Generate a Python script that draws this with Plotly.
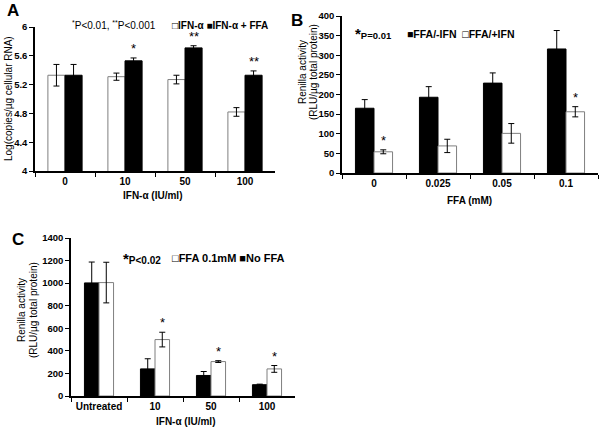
import plotly.graph_objects as go

# ---------------- data ----------------
a_cats = ["0", "10", "50", "100"]
a_ifn = [5.33, 5.31, 5.27, 4.82]
a_ifn_err = [0.15, 0.05, 0.06, 0.06]
a_ffa = [5.33, 5.53, 5.71, 5.33]
a_ffa_err = [0.15, 0.04, 0.03, 0.06]
a_sig = ["", "*", "**", "**"]

b_cats = ["0", "0.025", "0.05", "0.1"]
b_minus = [165, 193, 229, 316]
b_minus_err = [22, 27, 26, 47]
b_plus = [54, 69, 101, 156]
b_plus_err = [5, 17, 25, 13]
b_sig = ["*", "", "", "*"]

c_cats = ["Untreated", "10", "50", "100"]
c_noffa = [1002, 240, 182, 100]
c_noffa_err = [185, 90, 35, 5]
c_ffa = [1005, 500, 305, 240]
c_ffa_err = [180, 65, 8, 30]
c_sig = ["", "*", "*", "*"]

FONT = "Liberation Sans, Arial, sans-serif"
W, H = 600, 428


def px(x):
    return x / W


def py(y):
    return 1 - y / H


def bar(x, y, err, white, xa, ya, width, offset):
    return go.Bar(
        x=x, y=y, xaxis=xa, yaxis=ya, width=width, offset=offset,
        marker=dict(color="white" if white else "black",
                    line=dict(color="#7f7f7f" if white else "black", width=1)),
        error_y=dict(type="data", array=err, color="black", thickness=1, width=3),
        showlegend=False, hoverinfo="skip",
    )


fig = go.Figure()
wa, wb, wc = 0.285, 0.29, 0.26
fig.add_trace(bar(a_cats, a_ifn, a_ifn_err, True, "x", "y", wa, -wa))
fig.add_trace(bar(a_cats, a_ffa, a_ffa_err, False, "x", "y", wa, 0))
fig.add_trace(bar(b_cats, b_minus, b_minus_err, False, "x2", "y2", wb, -wb))
fig.add_trace(bar(b_cats, b_plus, b_plus_err, True, "x2", "y2", wb, 0))
fig.add_trace(bar(c_cats, c_noffa, c_noffa_err, False, "x3", "y3", wc, -wc))
fig.add_trace(bar(c_cats, c_ffa, c_ffa_err, True, "x3", "y3", wc, 0))

tickfont = dict(family=FONT, size=10, color="black", weight="bold")
ytickfont = dict(family=FONT, size=9.5, color="black", weight="bold")
axbase = dict(showline=True, linecolor="black", linewidth=1.5, ticks="outside",
              ticklen=4, tickcolor="black", tickwidth=1, showgrid=False,
              zeroline=False, tickfont=tickfont, fixedrange=True,
              automargin=False)

fig.update_layout(
    width=W, height=H, margin=dict(l=0, r=0, t=0, b=0, autoexpand=False),
    paper_bgcolor="white", plot_bgcolor="white", showlegend=False,
    font=dict(family=FONT, color="black"),
    xaxis=dict(axbase, domain=[px(35), px(275)], anchor="y", type="category",
               tickson="boundaries"),
    yaxis=dict(axbase, domain=[py(171), py(27)], anchor="x", range=[4, 6],
               dtick=0.4, tickformat=".1~f", tickfont=ytickfont),
    xaxis2=dict(axbase, domain=[px(342), px(598)], anchor="y2", type="category",
                tickson="boundaries"),
    yaxis2=dict(axbase, domain=[py(173), py(16)], anchor="x2", range=[0, 400],
                dtick=50, tickfont=ytickfont),
    xaxis3=dict(axbase, domain=[px(71), px(295)], anchor="y3", type="category",
                tickson="boundaries"),
    yaxis3=dict(axbase, domain=[py(396), py(238)], anchor="x3", range=[0, 1400],
                dtick=200, tickfont=ytickfont),
)

ann = []


def txt(x, y, text, size=10, bold=False, angle=0, xanchor="center"):
    ann.append(dict(xref="paper", yref="paper", x=px(x), y=py(y), text=text,
                    showarrow=False, textangle=angle, xanchor=xanchor,
                    yanchor="middle",
                    font=dict(family=FONT, size=size, color="black",
                              weight="bold" if bold else "normal")))


# panel letters
txt(13, 11, "A", 17, True)
txt(297, 20, "B", 17, True)
txt(18, 240, "C", 17, True)

# axis titles
txt(8, 99, "Log(copies/µg cellular RNA)", 10, False, -90)
txt(152, 196, "IFN-α (IU/ml)", 10, True)
txt(302, 72, "Renilla activity", 10, False, -90)
txt(313, 72, "(RLU/µg total protein)", 10, False, -90)
txt(469, 200, "FFA (mM)", 10, True)
txt(21, 310, "Renilla activity", 10, False, -90)
txt(33, 310, "(RLU/µg total protein)", 10, False, -90)
txt(185, 421, "IFN-α (IU/ml)", 10, True)

# p-value notes and legends
txt(114, 25, "<sup>*</sup>P<0.01, <sup>**</sup>P<0.001", 10, False)
txt(220, 25, "□IFN-α ■IFN-α + FFA", 10, True)
txt(353, 34, "<span style='font-size:15px'>*</span>P=0.01", 9.5, True, 0, "left")
txt(460, 34, "■FFA/-IFN  □FFA/+IFN", 10.5, True)
txt(121, 258, "<span style='font-size:15px'>*</span>P<0.02", 10, True, 0, "left")
txt(228, 258, "□FFA 0.1mM ■No FFA", 11, True)

fig.update_layout(annotations=ann)


# significance stars above bars (data coordinates)
def stars(sig, vals, errs, xa, ya, off):
    for i, s in enumerate(sig):
        if s:
            fig.add_annotation(x=i + off, y=vals[i] + errs[i], xref=xa, yref=ya,
                               text=s, showarrow=False, yanchor="bottom",
                               yshift=0, font=dict(family=FONT, size=13, color="black"))


stars(a_sig, a_ffa, a_ffa_err, "x", "y", wa / 2)
stars(b_sig, b_plus, b_plus_err, "x2", "y2", wb / 2)
stars(c_sig, c_ffa, c_ffa_err, "x3", "y3", wc / 2)

fig.write_html("out.html", config={"displayModeBar": False},
               post_script="document.body.style.margin='0';document.body.style.padding='0';")
